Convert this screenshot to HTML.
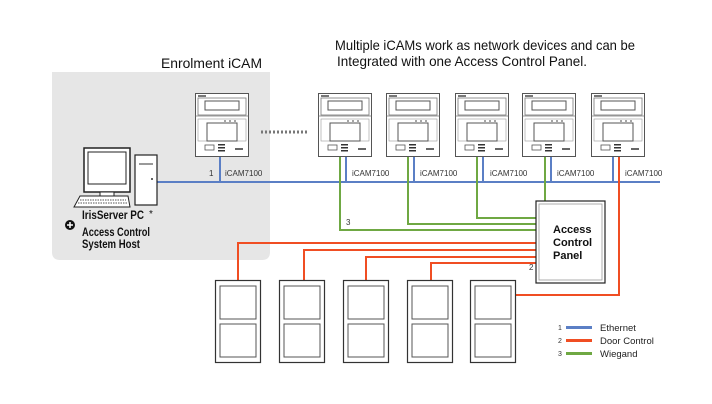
<!DOCTYPE html>
<html><head><meta charset="utf-8"><style>
html,body{margin:0;padding:0;background:#fff;}
svg{display:block;font-family:"Liberation Sans",sans-serif;}
</style></head><body>
<svg width="712" height="404" viewBox="0 0 712 404" xmlns="http://www.w3.org/2000/svg">
<defs>
<g id="dev">
  <rect x="0.5" y="0.5" width="53" height="63" fill="#fff" stroke="#555" stroke-width="1"/>
  <rect x="3" y="2" width="8" height="2" fill="#777"/>
  <rect x="3" y="5" width="48" height="17" fill="#fff" stroke="#777" stroke-width="0.8"/>
  <rect x="10" y="8" width="34" height="9" fill="#fff" stroke="#555" stroke-width="1"/>
  <line x1="0.5" y1="23" x2="53.5" y2="23" stroke="#777" stroke-width="0.8"/>
  <rect x="3" y="26" width="48" height="22" fill="#fff" stroke="#999" stroke-width="0.6"/>
  <rect x="12" y="30" width="30" height="18" fill="#fff" stroke="#555" stroke-width="1"/>
  <circle cx="30" cy="28" r="1" fill="#888"/><circle cx="35" cy="28" r="1" fill="#888"/><circle cx="40" cy="28" r="1" fill="#888"/>
  <rect x="10" y="52" width="9" height="5" fill="#fff" stroke="#555" stroke-width="0.8"/>
  <rect x="23" y="51" width="7" height="1.5" fill="#333"/><rect x="23" y="54" width="7" height="1.5" fill="#333"/><rect x="23" y="57" width="7" height="1.5" fill="#333"/>
  <rect x="40" y="55" width="8" height="2" fill="#666"/>
</g>
<g id="door">
  <rect x="0.5" y="0.5" width="45" height="82" fill="#fff" stroke="#333" stroke-width="1.2"/>
  <rect x="5" y="6" width="36" height="33" fill="#fff" stroke="#555" stroke-width="1"/>
  <rect x="5" y="44" width="36" height="33" fill="#fff" stroke="#555" stroke-width="1"/>
</g>
</defs>
<path d="M52 72 H270 V252 Q270 260 262 260 H60 Q52 260 52 252 Z" fill="#e6e6e6"/>
<text x="161" y="68" font-size="14" fill="#111" textLength="101" lengthAdjust="spacingAndGlyphs">Enrolment  iCAM</text>
<text x="335" y="50" font-size="14" fill="#111" textLength="300" lengthAdjust="spacingAndGlyphs">Multiple iCAMs work as network devices and can be</text>
<text x="337" y="66" font-size="14" fill="#111" textLength="250" lengthAdjust="spacingAndGlyphs">Integrated with one Access Control Panel.</text>
<g stroke="#5b7fc5" stroke-width="2" fill="none">
<line x1="157" y1="182" x2="660" y2="182"/>
<line x1="220" y1="157" x2="220" y2="182"/>
<line x1="346" y1="157" x2="346" y2="182"/>
<line x1="414" y1="157" x2="414" y2="182"/>
<line x1="483" y1="157" x2="483" y2="182"/>
<line x1="551" y1="157" x2="551" y2="182"/>
<line x1="613" y1="157" x2="613" y2="182"/>
</g>
<g stroke="#6fa843" stroke-width="2" fill="none">
<polyline points="340,157 340,230 536,230"/>
<polyline points="408,157 408,224 536,224"/>
<polyline points="477,157 477,218 536,218"/>
<polyline points="545,157 545,201"/>
</g>
<g stroke="#f04e23" stroke-width="2" fill="none">
<polyline points="238,280 238,243 536,243"/>
<polyline points="304,280 304,250 536,250"/>
<polyline points="366,280 366,257 536,257"/>
<polyline points="431,280 431,263 536,263"/>
<polyline points="619,157 619,295 516,295"/>
</g>
<line x1="261" y1="132" x2="307" y2="132" stroke="#777" stroke-width="3" stroke-dasharray="2,2"/>
<use href="#dev" x="195" y="93"/>
<use href="#dev" x="318" y="93"/>
<use href="#dev" x="386" y="93"/>
<use href="#dev" x="455" y="93"/>
<use href="#dev" x="522" y="93"/>
<use href="#dev" x="591" y="93"/>
<g font-size="8" fill="#333">
<text x="209" y="176">1</text>
<text x="225" y="176">iCAM7100</text>
<text x="352" y="176">iCAM7100</text>
<text x="420" y="176">iCAM7100</text>
<text x="490" y="176">iCAM7100</text>
<text x="557" y="176">iCAM7100</text>
<text x="625" y="176">iCAM7100</text>
<text x="346" y="225">3</text>
<text x="529" y="270">2</text>
</g>
<rect x="536" y="201" width="69" height="82" fill="#fff" stroke="#222" stroke-width="1.2"/>
<rect x="539" y="204" width="63" height="76" fill="none" stroke="#999" stroke-width="0.8"/>
<g font-size="11" font-weight="bold" fill="#111">
<text x="553" y="233">Access</text><text x="553" y="246">Control</text><text x="553" y="259">Panel</text>
</g>
<use href="#door" x="215" y="280"/>
<use href="#door" x="279" y="280"/>
<use href="#door" x="343" y="280"/>
<use href="#door" x="407" y="280"/>
<use href="#door" x="470" y="280"/>
<rect x="84" y="148" width="46" height="44" fill="#fff" stroke="#222" stroke-width="1.5"/>
<rect x="88" y="152" width="38" height="32" fill="#fff" stroke="#222" stroke-width="1"/>
<rect x="100" y="192" width="14" height="4" fill="#fff" stroke="#222" stroke-width="1"/>
<path d="M80 196 H128 L130 207 H74 Z" fill="#fff" stroke="#222" stroke-width="1"/>
<line x1="80" y1="200" x2="126" y2="200" stroke="#555" stroke-dasharray="1.5,1"/>
<line x1="78" y1="203" x2="127" y2="203" stroke="#555" stroke-dasharray="1.5,1"/>
<rect x="135" y="155" width="22" height="50" fill="#fff" stroke="#222" stroke-width="1.2"/>
<rect x="139" y="163" width="14" height="2" fill="#999"/>
<circle cx="152" cy="179" r="1" fill="#333"/>
<text x="82" y="219" font-size="12" font-weight="bold" fill="#111" textLength="62" lengthAdjust="spacingAndGlyphs">IrisServer PC</text>
<text x="149" y="217" font-size="10" fill="#111">*</text>
<circle cx="70" cy="225" r="5" fill="#111"/>
<path d="M67 225 H73 M70 222 V228" stroke="#fff" stroke-width="1.5"/>
<text x="82" y="236" font-size="12" font-weight="bold" fill="#111" textLength="68" lengthAdjust="spacingAndGlyphs">Access Control</text>
<text x="82" y="248" font-size="12" font-weight="bold" fill="#111" textLength="58" lengthAdjust="spacingAndGlyphs">System Host</text>
<g font-size="7" fill="#333"><text x="558" y="330">1</text><text x="558" y="343">2</text><text x="558" y="356">3</text></g>
<rect x="566" y="326" width="26" height="3" fill="#5b7fc5"/>
<rect x="566" y="339" width="26" height="3" fill="#f04e23"/>
<rect x="566" y="352" width="26" height="3" fill="#6fa843"/>
<g font-size="9.5" fill="#222"><text x="600" y="331">Ethernet</text><text x="600" y="344">Door Control</text><text x="600" y="357">Wiegand</text></g>
</svg>
</body></html>
